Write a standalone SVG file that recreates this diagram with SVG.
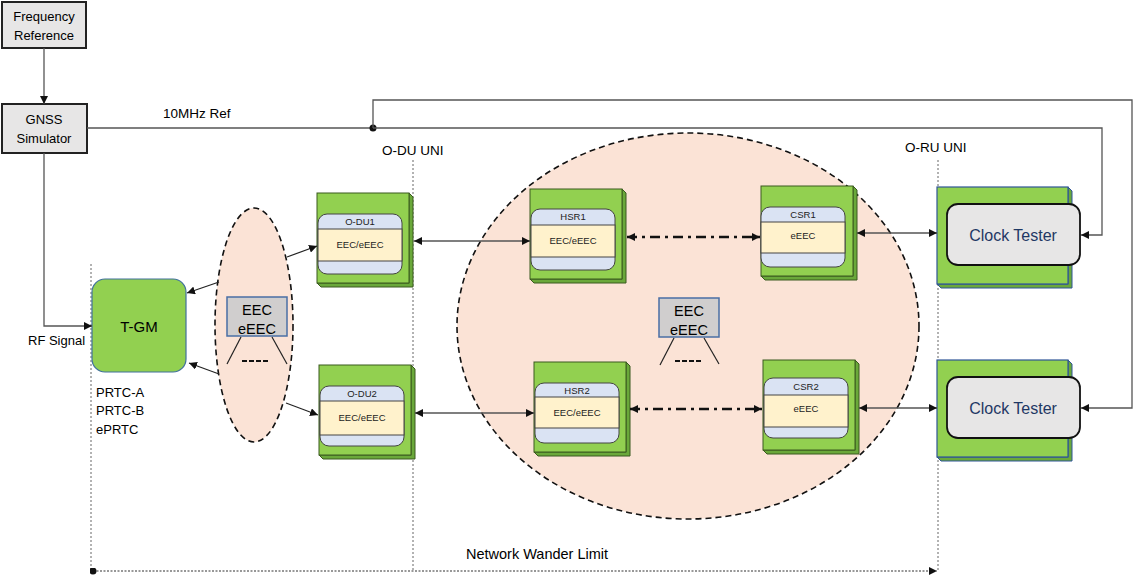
<svg xmlns="http://www.w3.org/2000/svg" width="1134" height="576" viewBox="0 0 1134 576">
<defs>
<style>
text{font-family:"Liberation Sans",Arial,sans-serif;fill:#000}
.box{fill:#e7e6e6;stroke:#222;stroke-width:2}
.ln{fill:none;stroke:#555;stroke-width:1.3}
.blk{fill:none;stroke:#222;stroke-width:1.2}
.dd{fill:none;stroke:#111;stroke-width:2.6;stroke-dasharray:10 5 3 5}
.vdot{fill:none;stroke:#666;stroke-width:1;stroke-dasharray:2 2}
.ell{fill:#fbe3d6;stroke:#111;stroke-width:1.6;stroke-dasharray:6 4}
.front{fill:#92d050;stroke:#3a5a1e;stroke-width:1}
.side{fill:#6aa83a;stroke:#3a5a1e;stroke-width:1}
.inner{fill:#dae3f3;stroke:#444;stroke-width:1}
.mid{fill:#fff2cc;stroke:#444;stroke-width:1}
.hdr{font-size:9.5px;text-anchor:middle;fill:#222}
.eec{fill:#d0cece;stroke:#4a6fa5;stroke-width:1.5}
.ctb{fill:#92d050;stroke:#2f5597;stroke-width:1.2}
.cts{fill:#6aa83a;stroke:#2f5597;stroke-width:1}
.cti{fill:#e7e6e6;stroke:#111;stroke-width:1.8}
</style>
<marker id="ar" viewBox="0 0 10 10" refX="10" refY="5" markerWidth="8" markerHeight="8" markerUnits="userSpaceOnUse" orient="auto-start-reverse"><path d="M0,0 L10,5 L0,10 z" fill="#111"/></marker>
<marker id="dot" viewBox="0 0 10 10" refX="5" refY="5" markerWidth="7" markerHeight="7" markerUnits="userSpaceOnUse"><circle cx="5" cy="5" r="5" fill="#111"/></marker>
</defs>
<rect width="1134" height="576" fill="#fff"/>

<g id="ellipses">
<ellipse class="ell" cx="688" cy="326" rx="231" ry="193"/>
<ellipse class="ell" cx="254" cy="325" rx="39" ry="117"/>
</g>

<g id="guides">
<line class="vdot" x1="91" y1="264" x2="91" y2="571"/>
<line class="vdot" x1="413" y1="160" x2="413" y2="571"/>
<line class="vdot" x1="938" y1="160" x2="938" y2="571"/>
</g>

<g id="freq-ref">
<rect class="box" x="2" y="2" width="84" height="46"/>
<text x="44" y="21" font-size="13" text-anchor="middle">Frequency</text>
<text x="44" y="40" font-size="13" text-anchor="middle">Reference</text>
</g>

<g id="gnss">
<rect class="box" x="2" y="104" width="85" height="49"/>
<text x="44" y="124" font-size="13" text-anchor="middle">GNSS</text>
<text x="44" y="143" font-size="13" text-anchor="middle">Simulator</text>
</g>

<g id="tgm">
<rect x="92" y="279" width="94" height="93" rx="13" fill="#92d050" stroke="#41719c" stroke-width="1.2"/>
<text x="139" y="332" font-size="15" text-anchor="middle">T-GM</text>
</g>

<g id="eec-left">
<rect class="eec" x="227" y="297" width="60" height="39"/>
<text x="257" y="315" font-size="14.5" text-anchor="middle">EEC</text>
<text x="257" y="334" font-size="14.5" text-anchor="middle">eEEC</text>
<line class="blk" x1="241" y1="337" x2="227" y2="364"/>
<line class="blk" x1="272" y1="337" x2="287" y2="364"/>
<line x1="242" y1="361" x2="269" y2="361" stroke="#111" stroke-width="2" stroke-dasharray="5 2"/>
</g>

<g id="eec-mid">
<rect class="eec" x="659" y="298" width="60" height="39"/>
<text x="689" y="316" font-size="14.5" text-anchor="middle">EEC</text>
<text x="689" y="335" font-size="14.5" text-anchor="middle">eEEC</text>
<line class="blk" x1="674" y1="338" x2="660" y2="365"/>
<line class="blk" x1="704" y1="338" x2="719" y2="364"/>
<line x1="675" y1="361" x2="702" y2="361" stroke="#111" stroke-width="2" stroke-dasharray="5 2"/>
</g>

<g id="odu1" transform="translate(317,193)">
<path class="side" d="M92,0 L96,4 L96,94 L4,94 L0,90 L92,90 Z"/>
<rect class="front" x="0" y="0" width="92" height="90"/>
<rect class="inner" x="1" y="21" width="84" height="60" rx="9"/>
<rect class="mid" x="1" y="36" width="84" height="32"/>
<text class="hdr" x="43" y="32">O-DU1</text>
<text class="hdr" x="43" y="55">EEC/eEEC</text>
</g>

<g id="odu2" transform="translate(319,365)">
<path class="side" d="M92,0 L96,4 L96,94 L4,94 L0,90 L92,90 Z"/>
<rect class="front" x="0" y="0" width="92" height="90"/>
<rect class="inner" x="1" y="21" width="84" height="60" rx="9"/>
<rect class="mid" x="1" y="36" width="84" height="34"/>
<text class="hdr" x="43" y="32">O-DU2</text>
<text class="hdr" x="43" y="56">EEC/eEEC</text>
</g>

<g id="hsr1" transform="translate(530,189)">
<path class="side" d="M92,0 L96,4 L96,94 L4,94 L0,90 L92,90 Z"/>
<rect class="front" x="0" y="0" width="92" height="90"/>
<rect class="inner" x="1" y="20" width="84" height="61" rx="9"/>
<rect class="mid" x="1" y="36" width="84" height="32"/>
<text class="hdr" x="43" y="31">HSR1</text>
<text class="hdr" x="43" y="55">EEC/eEEC</text>
</g>

<g id="hsr2" transform="translate(534,362)">
<path class="side" d="M92,0 L96,4 L96,94 L4,94 L0,90 L92,90 Z"/>
<rect class="front" x="0" y="0" width="92" height="90"/>
<rect class="inner" x="1" y="21" width="84" height="60" rx="9"/>
<rect class="mid" x="1" y="35" width="84" height="31"/>
<text class="hdr" x="43" y="32">HSR2</text>
<text class="hdr" x="43" y="54">EEC/eEEC</text>
</g>

<g id="csr1" transform="translate(761,186)">
<path class="side" d="M92,0 L96,4 L96,94 L4,94 L0,90 L92,90 Z"/>
<rect class="front" x="0" y="0" width="92" height="90"/>
<rect class="inner" x="0" y="21" width="84" height="60" rx="9"/>
<rect class="mid" x="0" y="36" width="84" height="31"/>
<text class="hdr" x="42" y="32">CSR1</text>
<text class="hdr" x="42" y="53">eEEC</text>
</g>

<g id="csr2" transform="translate(763,360)">
<path class="side" d="M92,0 L96,4 L96,94 L4,94 L0,90 L92,90 Z"/>
<rect class="front" x="0" y="0" width="92" height="90"/>
<rect class="inner" x="1" y="18" width="84" height="60" rx="9"/>
<rect class="mid" x="1" y="35" width="84" height="32"/>
<text class="hdr" x="43" y="30">CSR2</text>
<text class="hdr" x="43" y="52">eEEC</text>
</g>

<g id="tester1">
<path class="cts" d="M1068,187 L1072,191 L1072,288 L941,288 L937,284 L1068,284 Z"/>
<rect class="ctb" x="937" y="187" width="131" height="97"/>
<rect class="cti" x="947" y="204" width="133" height="61" rx="11"/>
<text x="1013" y="241" font-size="16" text-anchor="middle" style="fill:#1f3864">Clock Tester</text>
</g>

<g id="tester2">
<path class="cts" d="M1068,360 L1072,364 L1072,461 L941,461 L937,457 L1068,457 Z"/>
<rect class="ctb" x="937" y="360" width="131" height="97"/>
<rect class="cti" x="947" y="377" width="133" height="61" rx="11"/>
<text x="1013" y="414" font-size="16" text-anchor="middle" style="fill:#1f3864">Clock Tester</text>
</g>

<g id="labels">
<text x="163" y="118" font-size="13.5">10MHz Ref</text>
<text x="382" y="155" font-size="13.5">O-DU UNI</text>
<text x="905" y="152" font-size="13.5">O-RU UNI</text>
<text x="28" y="345" font-size="13">RF Signal</text>
<text x="96" y="397" font-size="13">PRTC-A</text>
<text x="96" y="415" font-size="13">PRTC-B</text>
<text x="96" y="434" font-size="13">ePRTC</text>
<text x="466" y="559" font-size="14.5">Network Wander Limit</text>
</g>

<g id="connectors">
<line class="ln" x1="44" y1="48" x2="44" y2="104" marker-end="url(#ar)"/>
<polyline class="ln" points="44,153 44,326 92,326" marker-end="url(#ar)"/>
<line class="ln" x1="87" y1="128" x2="373" y2="128"/>
<circle cx="373" cy="128" r="3.5" fill="#111"/>
<polyline class="ln" points="373,128 1102,128 1102,235 1081,235" marker-end="url(#ar)"/>
<polyline class="ln" points="373,128 373,100 1132,100 1132,408 1081,408" marker-end="url(#ar)"/>
<line class="blk" x1="219" y1="282" x2="187" y2="293" marker-end="url(#ar)"/>
<line class="blk" x1="219" y1="374" x2="189" y2="363" marker-end="url(#ar)"/>
<line class="blk" x1="287" y1="257" x2="317" y2="246" marker-end="url(#ar)"/>
<line class="blk" x1="286" y1="403" x2="318" y2="415" marker-end="url(#ar)"/>
<line class="ln" x1="414" y1="241" x2="530" y2="241" marker-start="url(#ar)" marker-end="url(#ar)"/>
<line class="ln" x1="415" y1="413" x2="534" y2="413" marker-start="url(#ar)" marker-end="url(#ar)"/>
<line class="dd" x1="627" y1="237" x2="760" y2="237" marker-start="url(#ar)" marker-end="url(#ar)"/>
<line class="dd" x1="630" y1="409" x2="762" y2="409" marker-start="url(#ar)" marker-end="url(#ar)"/>
<line class="ln" x1="857" y1="233" x2="937" y2="233" marker-start="url(#ar)" marker-end="url(#ar)"/>
<line class="ln" x1="859" y1="408" x2="937" y2="408" marker-start="url(#ar)" marker-end="url(#ar)"/>
<line x1="93" y1="571" x2="937" y2="571" stroke="#333" stroke-width="1.2" stroke-dasharray="2 1.5" marker-start="url(#dot)" marker-end="url(#ar)"/>
</g>
</svg>
